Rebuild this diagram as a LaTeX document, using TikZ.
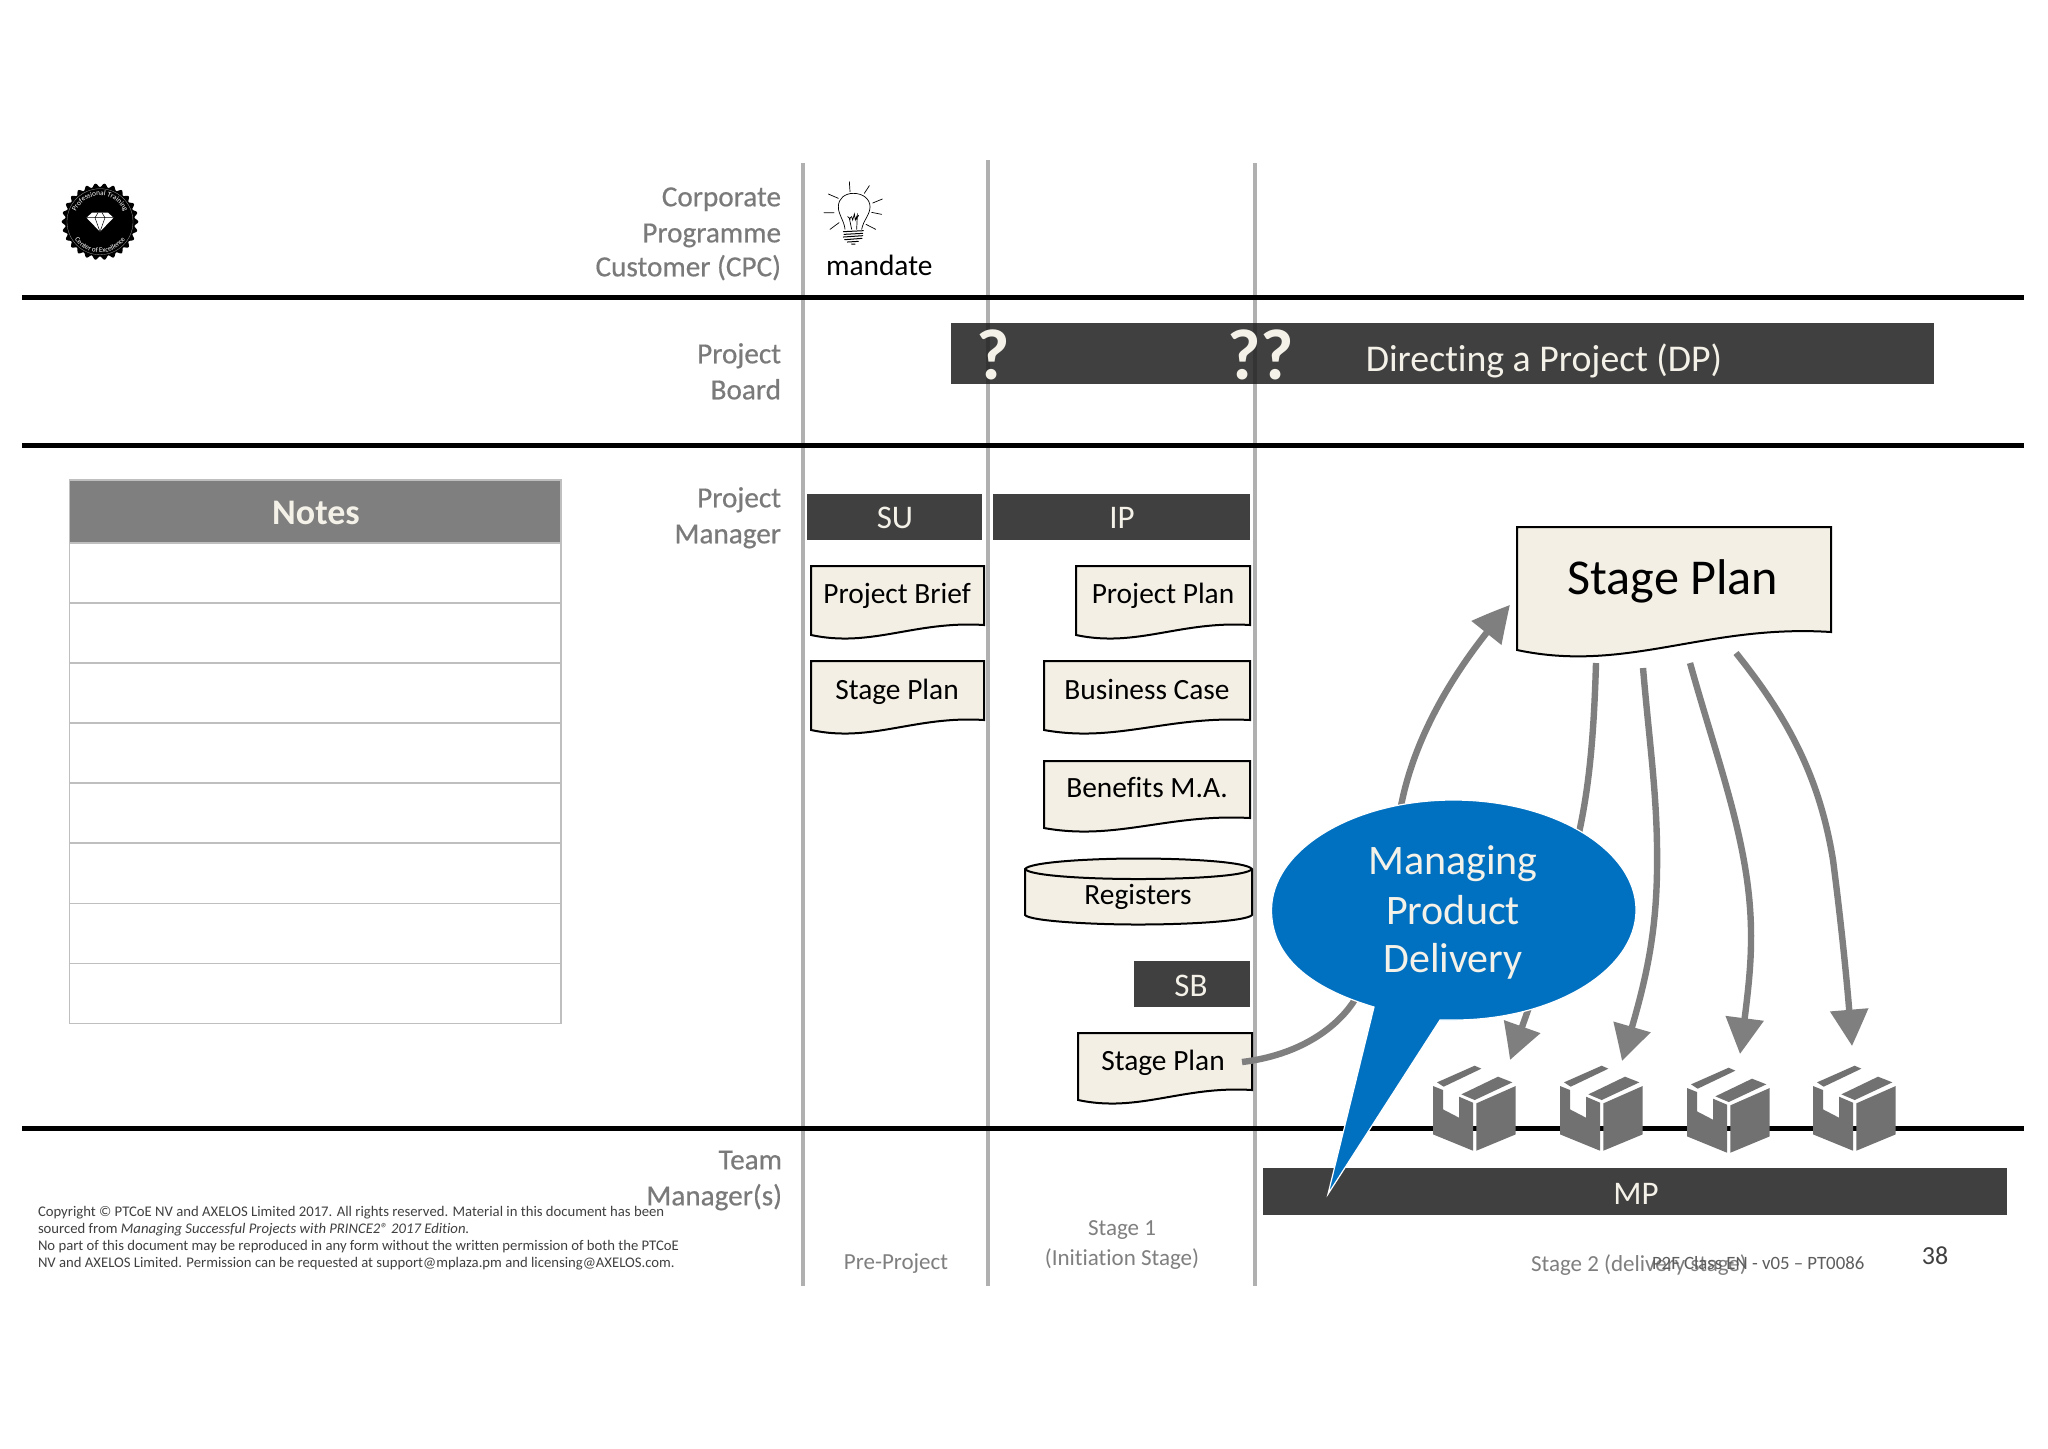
\documentclass[tikz,border=0pt]{standalone}
\usepackage{fontspec}
\setmainfont{Carlito}[Ligatures=CommonOff]
\newfontfamily\rolefont{Carlito}[FakeBold=0.5,Ligatures=CommonOff]
\usetikzlibrary{arrows.meta,decorations.text,bending}
\definecolor{barDark}{HTML}{404040}
\definecolor{barLine}{HTML}{343434}
\definecolor{docFill}{HTML}{F3EFE5}
\definecolor{vGray}{HTML}{B0B0B0}
\definecolor{arrGray}{HTML}{7F7F7F}
\definecolor{boxGray}{HTML}{717171}
\definecolor{lblGray}{HTML}{7A7A7A}
\definecolor{mpdBlue}{HTML}{0070C0}
\definecolor{cream}{HTML}{F4F1E8}
\tikzset{
  txt/.style={inner sep=0pt,outer sep=0pt,anchor=base,yshift=-0.65pt},
  role/.style={txt,anchor=base east,text=lblGray,font=\rolefont\fontsize{14.6}{18}\selectfont},
  body/.style={txt,text=black,font=\fontsize{14.7}{18}\selectfont},
  barlbl/.style={txt,text=cream,font=\fontsize{16.5}{18}\selectfont},
  stagelbl/.style={txt,text=arrGray,font=\fontsize{11.5}{14}\selectfont},
  mpdlbl/.style={txt,text=cream,font=\fontsize{21}{24}\selectfont},
  qmark/.style={txt,text=cream,font=\fontsize{36}{40}\selectfont\bfseries},
  vline/.style={vGray,line width=2.4pt},
  vlinedark/.style={barLine,line width=2.4pt},
  hline/.style={black,line width=2.5pt},
  bararea/.style={fill=barDark,draw=none},
  docshape/.style={fill=docFill,draw=black,line width=1pt,line join=miter},
  rowline/.style={draw=black!25,line width=0.6pt,fill=white},
  flow/.style={arrGray,line width=3.2pt,-{Triangle[length=18pt,width=18.5pt,bend]}},
  copytxt/.style={txt,anchor=base west,text=barDark,font=\fontsize{7.35}{8.5}\selectfont},
  bulbline/.style={black,line width=0.35pt,line cap=round},
}
% #1 name #2 x0 #3 ytop #4 x1 #5 y right bottom #6 y left bottom #7 text x #8 text baseline #9 text
\newcommand{\wavedoc}[9]{%
  \pgfmathsetmacro{\wdw}{#4-#2}%
  \pgfmathsetmacro{\wdd}{#6-#5}%
  \draw[docshape] (#2,#3) -- (#4,#3) -- (#4,#5)
    .. controls ({#2+0.6*\wdw},{#5-0.45*\wdd}) and ({#2+0.35*\wdw},{#6+1.3*\wdd}) .. (#2,#6) -- cycle;
  \node[body] (#1) at (#7,#8) {#9};
}
\newcommand{\parcelbox}[3]{%
  \begin{scope}[shift={(#2,#3)},x=0.1667pt,y=-0.1667pt]
    \coordinate (#1) at (165,40);
    \fill[boxGray] (0,60) -- (30,72) -- (30,130) -- (78,155) -- (78,92) -- (120,110) -- (120,254) -- (0,205) -- cycle;
    \fill[boxGray] (130,112) -- (248,60) -- (248,205) -- (130,254) -- cycle;
    \fill[boxGray] (12,49) -- (125,-1) -- (145,8) -- (32,62) -- cycle;
    \fill[boxGray] (85,85) -- (195,32) -- (238,49) -- (125,102) -- cycle;
  \end{scope}
}
\begin{document}
\begin{tikzpicture}[x=0.5pt,y=-0.5pt]
\useasboundingbox (0,0) rectangle (2048,1448);
\fill[white] (0,0) rectangle (2048,1448);

% vertical swimlane separators
\coordinate (v1t) at (803,163); \coordinate (v1b) at (803,1286);
\coordinate (v2t) at (988,160); \coordinate (v2b) at (988,1286);
\coordinate (v3t) at (1255,163); \coordinate (v3b) at (1255,1286);
\draw[vline] (v1t) -- (v1b);
\draw[vline] (v2t) -- (v2b);
\draw[vline] (v3t) -- (v3b);

% horizontal swimlane separators
\coordinate (h1l) at (22,297); \coordinate (h1r) at (2024,297);
\coordinate (h2l) at (22,445); \coordinate (h2r) at (2024,445);
\coordinate (h3l) at (22,1128); \coordinate (h3r) at (2024,1128);
\draw[hline] (h1l) -- (h1r);
\draw[hline] (h2l) -- (h2r);
\draw[hline] (h3l) -- (h3r);

% role labels
\node[role] (r1) at (781,205) {Corporate};
\node[role] (r2) at (781,241) {Programme};
\node[role] (r3) at (781,275) {Customer (CPC)};
\node[role] (r4) at (781,362) {Project};
\node[role] (r5) at (781,398) {Board};
\node[role] (r6) at (781,506) {Project};
\node[role] (r7) at (781,542) {Manager};
\node[role] (r8) at (782,1168) {Team};
\node[role] (r9) at (782,1204) {Manager(s)};

% logo
\begin{scope}[shift={(100,221.7)},y=0.5pt]
  \fill[black] plot[domain=0:360,samples=289,smooth cycle] ({(36.5+1.8*cos(26*\x))*cos(\x)},{(36.5+1.8*cos(26*\x))*sin(\x)});
  \draw[black!40,line width=0.15pt] (0,0) circle[radius=16.5pt];
  \fill[white] (-13.5,4) -- (-8,9) -- (8,9) -- (13.5,4) -- (0,-10) -- cycle;
  \draw[black,line width=0.25pt] (-13.5,4) -- (13.5,4) (-5,4) -- (0,-10) -- (5,4) (-5,4) -- (-2,9) (5,4) -- (2,9);
  \path[postaction={decorate},decoration={text along path,text align=center,
      text={|\fontsize{3.6}{4}\selectfont\color{white}|Professional Training}}]
      (-26,0) arc[start angle=180,end angle=0,radius=13pt];
  \path[postaction={decorate},decoration={text along path,text align=center,
      text={|\fontsize{3.6}{4}\selectfont\color{white}|Center of Excellence}}]
      (-31,0) arc[start angle=180,end angle=360,radius=15.5pt];
\end{scope}

% bulb and mandate
\begin{scope}[shift={(810,170)},x=0.1667pt,y=-0.1667pt]
  \draw[bulbline] (105,178) .. controls (102,150) and (85,135) .. (85,110) .. controls (85,85) and (105,70) .. (130,70) .. controls (160,70) and (180,88) .. (180,110) .. controls (180,135) and (160,150) .. (155,178);
  \draw[bulbline] (118,35) -- (120,65) (178,47) -- (163,70) (217,87) -- (188,99) (215,133) -- (185,127)
    (197,178) -- (168,163) (87,158) -- (60,178) (72,128) -- (42,128) (85,85) -- (55,72);
  \draw[bulbline] (125,178) -- (118,145) -- (125,140) -- (128,150) -- (133,132) -- (136,150) -- (142,135) -- (140,178)
    (113,140) -- (121,147) (146,136) -- (138,148);
  \draw[black,line width=0.5pt,line cap=round] (100,185) -- (160,182) (102,193) -- (158,190) (100,201) -- (158,197)
    (104,209) -- (156,205) (112,216) -- (145,214) (125,222) -- (135,222);
\end{scope}
\node[body,anchor=base west] (mandate) at (826,274) {mandate};

% DP bar, with the separators showing through
\path[bararea] (951,323) rectangle (1934,384);
\coordinate (v2a) at (988,323); \coordinate (v2c) at (988,384);
\coordinate (v3a) at (1255,323); \coordinate (v3c) at (1255,384);
\draw[vlinedark] (v2a) -- (v2c);
\draw[vlinedark] (v3a) -- (v3c);
\node[barlbl,font=\fontsize{18.9}{20}\selectfont] (dp) at (1544,370) {Directing a Project (DP)};
\node[qmark] (q1) at (993,378) {?};
\node[qmark] (q2) at (1261,378) {??};

% process bars
\path[bararea] (807,493.5) rectangle (982,539.5);
\node[barlbl] (su) at (895,527) {SU};
\path[bararea] (993,493.5) rectangle (1250,539.5);
\node[barlbl] (ip) at (1122,527) {IP};
\path[bararea] (1134,961) rectangle (1250,1006.5);
\node[barlbl] (sb) at (1191,995) {SB};
\path[bararea] (1263,1168) rectangle (2007,1215);
\node[barlbl] (mp) at (1636,1203) {MP};

% products
\wavedoc{pb}{811}{566}{984}{625}{635}{897}{602}{Project Brief}
\wavedoc{sp1}{811}{661}{984}{720}{730}{897}{698}{Stage Plan}
\wavedoc{pp}{1076}{566}{1250}{625}{635}{1163}{602}{Project Plan}
\wavedoc{bc}{1044}{661}{1250}{720}{730}{1147}{698}{Business Case}
\wavedoc{bm}{1044}{761}{1250}{818}{828}{1147}{796}{Benefits M.A.}
% registers
\draw[docshape] (1025,869) -- (1025,915) .. controls (1030,921) and (1090,924.5) .. (1138,924.5)
  .. controls (1190,924.5) and (1247,921) .. (1252,915) -- (1252,869)
  .. controls (1247,862) and (1190,858.5) .. (1138,858.5) .. controls (1090,858.5) and (1030,862) .. (1025,869) -- cycle;
\draw[docshape,fill=none] (1025,869) .. controls (1030,876) and (1090,879) .. (1138,879) .. controls (1190,879) and (1247,876) .. (1252,869);
\node[body] (reg) at (1138,903) {Registers};
\wavedoc{sp2}{1078}{1033}{1252}{1090}{1100}{1163}{1069}{Stage Plan}

% parcels
\parcelbox{p1}{1433}{1066}
\parcelbox{p2}{1560}{1066}
\parcelbox{p3}{1687}{1068}
\parcelbox{p4}{1813}{1066}

% flows
\coordinate (a1s) at (1242,1062);
\coordinate (a1e) at (1510,605);
\draw[flow] (a1s) .. controls (1300,1055) and (1335,1028) .. (1352,1004)
  .. controls (1385,955) and (1385,880) .. (1402,801)
  .. controls (1418,725) and (1465,655) .. (a1e);
\coordinate (a2s) at (1596,663);
\coordinate (a2e) at (1510,1060);
\draw[flow] (a2s) .. controls (1594,730) and (1590,780) .. (1580,828)
  .. controls (1565,900) and (1545,965) .. (a2e);
\coordinate (a3s) at (1643,668);
\coordinate (a3e) at (1622,1061);
\draw[flow] (a3s) .. controls (1650,750) and (1658,800) .. (1657,870)
  .. controls (1656,950) and (1640,1000) .. (a3e);
\coordinate (a4s) at (1690,663);
\coordinate (a4e) at (1740,1054);
\draw[flow] (a4s) .. controls (1720,770) and (1752,850) .. (1751,940)
  .. controls (1751,975) and (1745,1015) .. (a4e);
\coordinate (a5s) at (1736,653);
\coordinate (a5e) at (1852,1046);
\draw[flow] (a5s) .. controls (1790,720) and (1820,780) .. (1833,860)
  .. controls (1842,930) and (1848,990) .. (a5e);

% big stage plan
\wavedoc{sp3}{1517}{527}{1831}{632}{650}{1673}{593}{}
\node[txt,text=black,font=\fontsize{25.1}{28}\selectfont] (sp3t) at (1673,593) {Stage Plan};

% Managing Product Delivery callout
\draw[fill=mpdBlue,draw=white,line width=0.6pt]
  (1374,1007) .. controls (1300,985) and (1271.5,950) .. (1271.5,910)
  .. controls (1271.5,850) and (1353,800) .. (1453.5,800)
  .. controls (1554,800) and (1636,850) .. (1636,910)
  .. controls (1636,970) and (1554,1020) .. (1453.5,1020)
  .. controls (1448,1020) and (1445,1020) .. (1440,1020)
  -- (1328,1194) -- cycle;
\node[mpdlbl] (mpd1) at (1453,873) {Managing};
\node[mpdlbl] (mpd2) at (1453,923) {Product};
\node[mpdlbl] (mpd3) at (1453,971) {Delivery};

% notes table
\draw[rowline,fill=arrGray] (69.5,480) rectangle (561,543);
\node[txt,text=cream,font=\fontsize{18}{20}\selectfont\bfseries] (notes) at (316,523) {Notes};
\draw[rowline] (69.5,543) rectangle (561,603);
\draw[rowline] (69.5,603) rectangle (561,663);
\draw[rowline] (69.5,663) rectangle (561,723);
\draw[rowline] (69.5,723) rectangle (561,783);
\draw[rowline] (69.5,783) rectangle (561,843);
\draw[rowline] (69.5,843) rectangle (561,903.5);
\draw[rowline] (69.5,903.5) rectangle (561,963.5);
\draw[rowline] (69.5,963.5) rectangle (561,1023.5);

% stage captions
\node[stagelbl] (s0) at (896,1268) {Pre-Project};
\node[stagelbl] (s1a) at (1122,1234) {Stage 1};
\node[stagelbl] (s1b) at (1122,1264) {(Initiation Stage)};
\node[stagelbl,anchor=base west] (s2) at (1531,1270) {Stage 2 (delivery stage)};

% footer
\node[copytxt] (c1) at (38,1215) {Copyright © PTCoE NV and AXELOS Limited 2017. All rights reserved. Material in this document has been};
\node[copytxt] (c2) at (38,1232) {sourced from \textit{Managing Successful Projects with PRINCE2® 2017 Edition.}};
\node[copytxt] (c3) at (38,1249) {No part of this document may be reproduced in any form without the written permission of both the PTCoE};
\node[copytxt] (c4) at (38,1266) {NV and AXELOS Limited. Permission can be requested at support@mplaza.pm and licensing@AXELOS.com.};
\node[txt,anchor=base west,text=barDark!85,font=\fontsize{9.4}{12}\selectfont] (ver) at (1652,1268) {P2F Class EN - v05 – PT0086};
\node[txt,text=barDark,font=\fontsize{13}{15}\selectfont] (pg) at (1935,1263) {38};
\end{tikzpicture}
\end{document}
